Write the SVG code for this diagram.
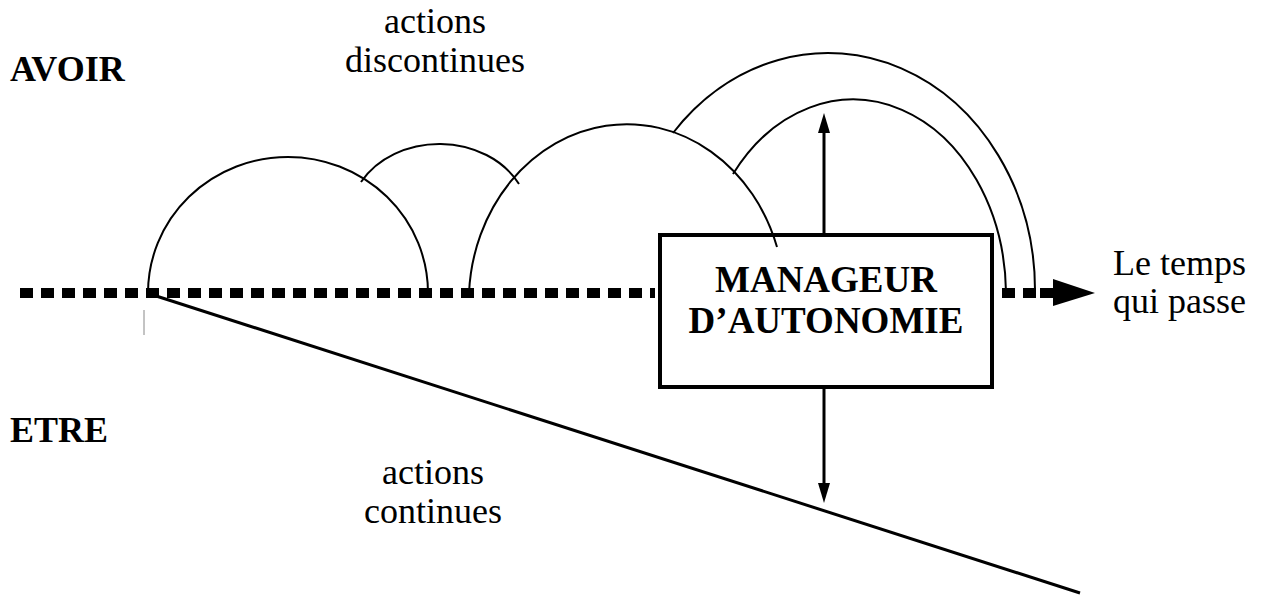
<svg xmlns="http://www.w3.org/2000/svg" width="1263" height="598" viewBox="0 0 1263 598">
<style>
.t{font-family:"Liberation Serif","Times New Roman",serif;font-size:36px;fill:#000}
.b{font-weight:bold}
.arc{fill:none;stroke:#000;stroke-width:2}
.ln{fill:none;stroke:#000;stroke-width:3}
.dash{fill:none;stroke:#000;stroke-width:10;stroke-dasharray:13 8}
</style>
<defs>
<marker id="ah" markerWidth="20" markerHeight="12" refX="2" refY="6" orient="auto" markerUnits="userSpaceOnUse" viewBox="0 0 20 12">
<path d="M0,0 L20,6 L0,12 Z" fill="#000"/>
</marker>
</defs>
<g id="labels">
<text class="t b" x="10" y="81">AVOIR</text>
<text class="t b" x="10" y="442">ETRE</text>
<text class="t" x="435" y="33" text-anchor="middle">actions</text>
<text class="t" x="435" y="72" text-anchor="middle">discontinues</text>
<text class="t" x="433" y="484" text-anchor="middle">actions</text>
<text class="t" x="433" y="523" text-anchor="middle">continues</text>
<text class="t" x="1113" y="275">Le temps</text>
<text class="t" x="1113" y="313">qui passe</text>
</g>
<g id="timeline">
<line class="dash" x1="20" y1="293" x2="655" y2="293"/>
<line class="dash" x1="1002" y1="293" x2="1042" y2="293"/>
<line x1="1040" y1="293" x2="1055" y2="293" stroke="#000" stroke-width="10"/>
<polygon points="1053,279 1095,293 1053,306" fill="#000"/>
</g>
<g id="arcs">
<path class="arc" d="M148,293 A140 136 0 0 1 428,293"/>
<path class="arc" d="M361,182 A90 75 0 0 1 519,184"/>
<path class="arc" d="M469,293 A158 178 0 0 1 777,247"/>
<path class="arc" d="M673,133 A207 237 0 0 1 1035,290 L1035,293"/>
<path class="arc" d="M733,174 A153 196 0 0 1 1006,292"/>
</g>
<g id="etre-line">
<line class="ln" x1="150" y1="294" x2="1080" y2="593"/>
<line x1="144" y1="310" x2="144" y2="335" stroke="#888" stroke-width="1"/>
</g>
<g id="manager">
<rect x="660" y="235" width="332" height="152" fill="none" stroke="#000" stroke-width="4"/>
<text class="t b" x="826" y="292" text-anchor="middle" style="font-size:37px">MANAGEUR</text>
<text class="t b" x="826" y="333" text-anchor="middle" style="font-size:37px">D’AUTONOMIE</text>
</g>
<g id="connectors">
<line class="ln" x1="824" y1="233" x2="824" y2="131" marker-end="url(#ah)"/>
<line class="ln" x1="824" y1="389" x2="824" y2="485" marker-end="url(#ah)"/>
</g>
</svg>
